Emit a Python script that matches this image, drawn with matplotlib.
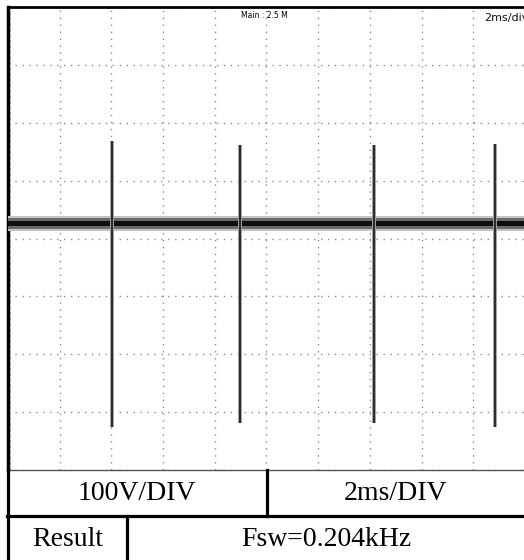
import numpy as np
import matplotlib

matplotlib.use("Agg")
import matplotlib.pyplot as plt

# scope settings (2 ms/div, 100 V/div, 10 x 8 divisions)
TIME_DIV_MS = 2.0
VOLT_DIV = 100.0
N_XDIV = 10
N_YDIV = 8

# trace
BASELINE_V = 26.0
BAND_CORE_V = 5.0
BAND_MID_V = 9.0
BAND_OUTER_V = 13.0
SPIKE_T_MS = [4.04, 8.97, 14.16, 18.84]
SPIKE_TOP_V = [168, 162, 162, 164]
SPIKE_BOTTOM_V = [-326, -318, -318, -326]

SCOPE_TOP_LEFT = "Main : 2.5 M"
SCOPE_TOP_RIGHT = "2ms/div"
TABLE_ROW1 = ["100V/DIV", "2ms/DIV"]
TABLE_ROW2 = ["Result", "Fsw=0.204kHz"]

W, H = 524, 560
fig = plt.figure(figsize=(W / 100, H / 100), dpi=100)
fig.patch.set_facecolor("white")

# ---- scope screen ----
L, R, T, B = 8, 525, 7, 470
ax = fig.add_axes([L / W, (H - B) / H, (R - L) / W, (B - T) / H])
tmax = TIME_DIV_MS * N_XDIV
vmax = VOLT_DIV * N_YDIV / 2
ax.set_xlim(0, tmax)
ax.set_ylim(-vmax, vmax)
ax.set_xticks(np.arange(0, tmax + 0.01, TIME_DIV_MS))
ax.set_yticks(np.arange(-vmax, vmax + 0.01, VOLT_DIV))
ax.tick_params(length=0, labelbottom=False, labelleft=False)
ax.grid(True, color="#8a8a8a", linestyle=(0, (1, 4)), linewidth=1.0)
ax.spines["right"].set_visible(False)
ax.spines["left"].set_linewidth(2.5)
ax.spines["top"].set_linewidth(2.0)
ax.spines["bottom"].set_color("#555555")
ax.spines["bottom"].set_linewidth(1.0)
# inner dashed edge on the left border
ax.axvline(0.05, color="black", lw=1.0, ls=(0, (2, 2)))

# noisy baseline band, drawn as soft layered stripes
xs = np.array([0, tmax])
for half, col, z in [(BAND_OUTER_V, "#c4c4c4", 3),
                     (BAND_MID_V, "#6a6a6a", 4),
                     (BAND_CORE_V, "#0e0e0e", 5)]:
    ax.fill_between(xs, BASELINE_V - half, BASELINE_V + half,
                    color=col, lw=0, zorder=z)

# switching spikes
ax.vlines(SPIKE_T_MS, SPIKE_BOTTOM_V, SPIKE_TOP_V, color="#a0a0a0",
          lw=2.8, zorder=6)
ax.vlines(SPIKE_T_MS, SPIKE_BOTTOM_V, SPIKE_TOP_V, color="#2a2a2a",
          lw=1.4, zorder=7)

# ---- overlay in pixel coordinates for labels and table ----
ov = fig.add_axes([0, 0, 1, 1])
ov.set_xlim(0, W)
ov.set_ylim(H, 0)
ov.axis("off")

ov.text(264, 15, SCOPE_TOP_LEFT, fontsize=5.5, ha="center", va="center",
        family=["Liberation Sans Narrow", "DejaVu Sans"])
ov.text(484, 18, SCOPE_TOP_RIGHT, fontsize=8, ha="left", va="center",
        family="DejaVu Sans", color="#111111")

lw = 2.3
ov.plot([7.5, 7.5], [B, H], color="black", lw=lw)
ov.plot([7, W], [515.5, 515.5], color="black", lw=lw)
ov.plot([266.5, 266.5], [B, 515.5], color="black", lw=lw)
ov.plot([127, 127], [515.5, H], color="black", lw=lw)

serif = "Liberation Serif"
ov.text((8 + 266) / 2, 493, TABLE_ROW1[0], fontsize=20, family=serif,
        ha="center", va="center")
ov.text((267 + W) / 2, 493, TABLE_ROW1[1], fontsize=20, family=serif,
        ha="center", va="center")
ov.text((8 + 127) / 2, 539, TABLE_ROW2[0], fontsize=20, family=serif,
        ha="center", va="center")
ov.text((128 + W) / 2, 539, TABLE_ROW2[1], fontsize=20, family=serif,
        ha="center", va="center")

fig.savefig("out.png", dpi=100)
